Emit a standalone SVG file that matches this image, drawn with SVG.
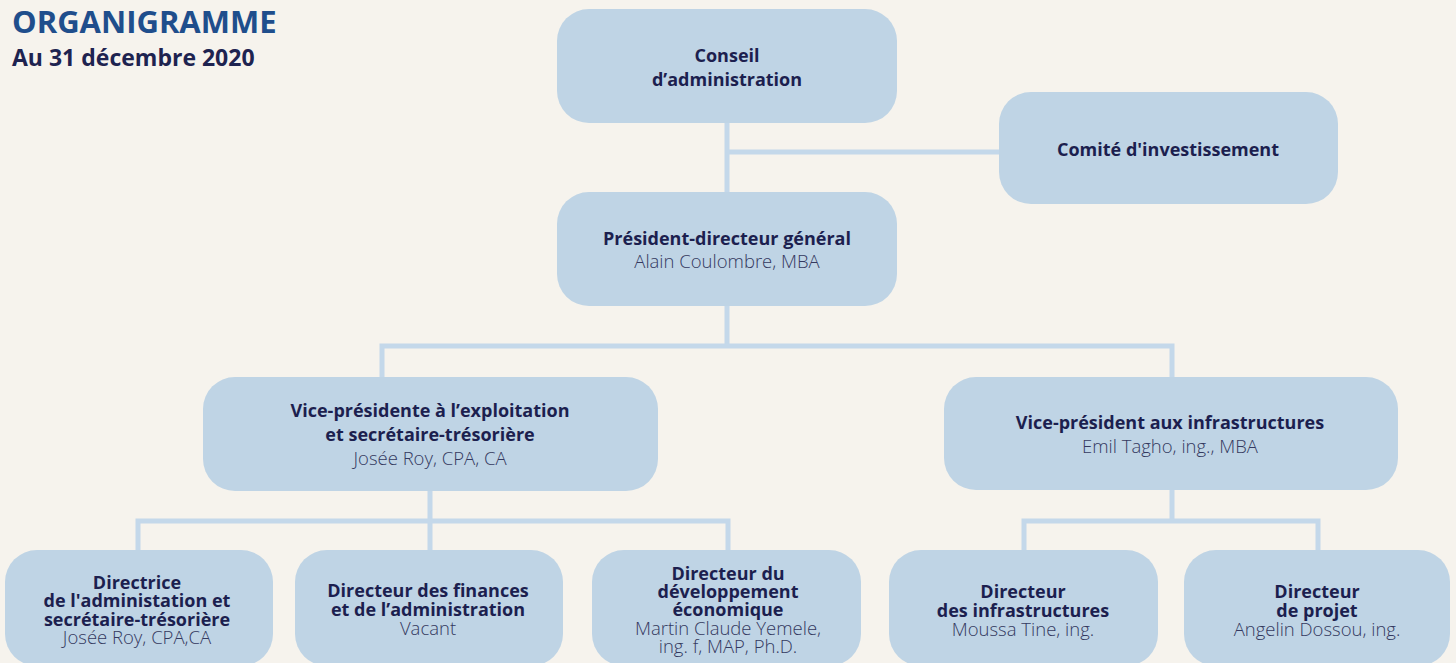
<svg xmlns="http://www.w3.org/2000/svg" width="1456" height="663" viewBox="0 0 1456 663">
<style>
.bg{fill:#f6f3ed}
.box{fill:#bfd4e5}
.ln{stroke:#c4d8ea;stroke-width:5;fill:none}
text{font-family:"Open Sans","Noto Sans","Liberation Sans",sans-serif;text-anchor:middle;fill:#1c1f4f}
.b{font-weight:700;font-size:18px}
.n{font-weight:300;font-size:18.5px;fill:#34395f}
</style>
<rect class="bg" width="1456" height="663"/>
<text x="12" y="33" style="text-anchor:start;font-weight:700;font-size:31px;fill:#1f4e8c">ORGANIGRAMME</text>
<text x="12" y="66" style="text-anchor:start;font-weight:700;font-size:23px;fill:#1e2350">Au 31 décembre 2020</text>
<g id="connectors">
<path class="ln" d="M727,123 V192 M727,152 H1000"/>
<path class="ln" d="M727,306 V346 M382,378 V346 H1172 V378"/>
<path class="ln" d="M430,491 V521 M138,551 V521 H728 V551 M430,521 V551"/>
<path class="ln" d="M1172,490 V521 M1024,551 V521 H1318 V551"/>
</g>
<g id="conseil"><rect class="box" x="557" y="9" width="340" height="114" rx="32"/>
<text class="b" x="727" y="62">Conseil</text><text class="b" x="727" y="86">d’administration</text></g>
<g id="comite"><rect class="box" x="999" y="92" width="339" height="112" rx="32"/>
<text class="b" x="1168" y="156">Comité d'investissement</text></g>
<g id="pdg"><rect class="box" x="557" y="192" width="340" height="114" rx="32"/>
<text class="b" x="727" y="245">Président-directeur général</text><text class="n" x="727" y="268">Alain Coulombre, MBA</text></g>
<g id="vp-exploitation"><rect class="box" x="203" y="377" width="455" height="114" rx="32"/>
<text class="b" x="430" y="417">Vice-présidente à l’exploitation</text><text class="b" x="430" y="441">et secrétaire-trésorière</text><text class="n" x="430" y="465">Josée Roy, CPA, CA</text></g>
<g id="vp-infra"><rect class="box" x="944" y="377" width="454" height="113" rx="32"/>
<text class="b" x="1170" y="429">Vice-président aux infrastructures</text><text class="n" x="1170" y="453">Emil Tagho, ing., MBA</text></g>
<g id="dir-admin"><rect class="box" x="5" y="550" width="268" height="116" rx="32"/>
<text class="b" x="137" y="589">Directrice</text><text class="b" x="137" y="607">de l'administation et</text><text class="b" x="137" y="626">secrétaire-trésorière</text><text class="n" x="137" y="644">Josée Roy, CPA,CA</text></g>
<g id="dir-finances"><rect class="box" x="295" y="550" width="268" height="116" rx="32"/>
<text class="b" x="428" y="597">Directeur des finances</text><text class="b" x="428" y="616">et de l’administration</text><text class="n" x="428" y="635">Vacant</text></g>
<g id="dir-dev"><rect class="box" x="592" y="550" width="269" height="116" rx="32"/>
<text class="b" x="728" y="580">Directeur du</text><text class="b" x="728" y="598">développement</text><text class="b" x="728" y="616">économique</text><text class="n" x="728" y="635">Martin Claude Yemele,</text><text class="n" x="728" y="653">ing. f, MAP, Ph.D.</text></g>
<g id="dir-infra"><rect class="box" x="889" y="550" width="269" height="116" rx="32"/>
<text class="b" x="1023" y="598">Directeur</text><text class="b" x="1023" y="617">des infrastructures</text><text class="n" x="1023" y="636">Moussa Tine, ing.</text></g>
<g id="dir-projet"><rect class="box" x="1184" y="550" width="266" height="116" rx="32"/>
<text class="b" x="1317" y="598">Directeur</text><text class="b" x="1317" y="617">de projet</text><text class="n" x="1317" y="636">Angelin Dossou, ing.</text></g>
</svg>
